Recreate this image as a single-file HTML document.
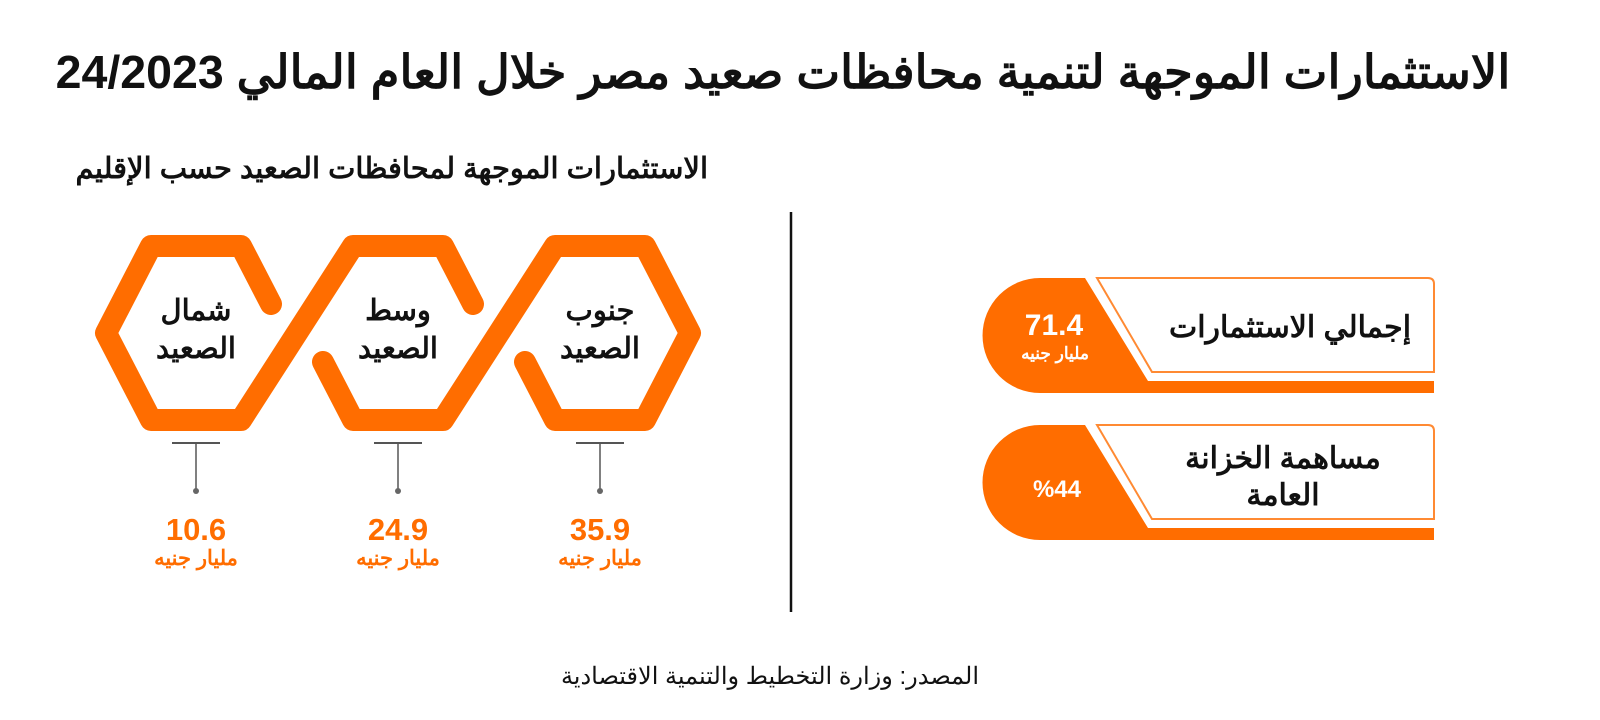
<!DOCTYPE html>
<html lang="ar"><head><meta charset="utf-8">
<style>
body{margin:0;background:#fff;width:1600px;height:720px;overflow:hidden;font-family:"Liberation Sans","Noto Sans CJK SC",sans-serif}
svg{display:block}
</style></head><body>
<svg id="s" width="1600" height="720" viewBox="0 0 1600 720">
<text x="783" y="88" text-anchor="middle" font-size="46.5" font-weight="bold" fill="#111" direction="rtl">الاستثمارات الموجهة لتنمية محافظات صعيد مصر خلال العام المالي 24/2023</text>
<text x="708" y="178" text-anchor="start" font-size="29" font-weight="bold" fill="#111" direction="rtl">الاستثمارات الموجهة لمحافظات الصعيد حسب الإقليم</text>
<line x1="791" y1="212" x2="791" y2="612" stroke="#111" stroke-width="2.5"/>
<g id="hex" fill="none" stroke="#ff6d00" stroke-width="22" stroke-linejoin="round" stroke-linecap="round"></g>
<g id="pins"></g>
<g id="cards"></g>
<text x="770" y="684" text-anchor="middle" font-size="24" fill="#111" direction="rtl">المصدر: وزارة التخطيط والتنمية الاقتصادية</text>
</svg>
<script>
const regions=["جنوب|الصعيد","وسط|الصعيد","شمال|الصعيد"];
const values=[35.9,24.9,10.6];
const unitLabel="مليار جنيه";
const cardTitles=["إجمالي الاستثمارات","مساهمة الخزانة|العامة"];
const cardValues=["71.4","%44"];
const cardUnits=["مليار جنيه",""];

const NS="http://www.w3.org/2000/svg";
function el(t,a,p){const e=document.createElementNS(NS,t);for(const k in a)e.setAttribute(k,a[k]);p.appendChild(e);return e;}
const cx=[600,398,196], T=246,B=420,M=333;
const hex=document.getElementById('hex');
const p=(a)=>a.map((q,i)=>(i?'L':'M')+q[0]+','+q[1]).join(' ');
let pa=el('path',{d:p([[cx[0]-75,362],[cx[0]-45,B],[cx[0]+45,B],[cx[0]+90,M],[cx[0]+45,T],[cx[0]-45,T],[cx[1]+45,B],[cx[1]-45,B],[cx[1]-75,362]])},hex);


let pb=el('path',{d:p([[cx[1]+75,304],[cx[1]+45,T],[cx[1]-45,T],[cx[2]+45,B],[cx[2]-45,B],[cx[2]-90,M],[cx[2]-45,T],[cx[2]+45,T],[cx[2]+75,304]])},hex);


const pins=document.getElementById('pins');
regions.forEach((r,i)=>{
  const [a,b]=r.split('|');
  const g=el('g',{},pins);
  
  
  el('text',{x:cx[i],y:320,'text-anchor':'middle','font-size':29,'font-weight':'bold',fill:'#111'},g).textContent=a;
  el('text',{x:cx[i],y:358,'text-anchor':'middle','font-size':29,'font-weight':'bold',fill:'#111'},g).textContent=b;
  el('line',{x1:cx[i]-24,y1:443,x2:cx[i]+24,y2:443,stroke:'#555','stroke-width':2},g);
  el('line',{x1:cx[i],y1:443,x2:cx[i],y2:490,stroke:'#555','stroke-width':1.5},g);
  el('circle',{cx:cx[i],cy:491,r:3,fill:'#666'},g);
  const v=el('text',{x:cx[i],y:540,'text-anchor':'middle','font-size':31,'font-weight':'bold',fill:'#ff6d00'},g);
  v.textContent=values[i].toFixed(1);
  
  
  el('text',{x:cx[i],y:565,'text-anchor':'middle','font-size':21,'font-weight':'bold',fill:'#ff6d00'},g).textContent=unitLabel;
});
const cards=document.getElementById('cards');
[278,425].forEach((y,i)=>{
  const g=el('g',{},cards);
  
  
  el('path',{d:`M1040,${y} L1085,${y} L1148,${y+103} L1434,${y+103} L1434,${y+115} L1040,${y+115} A57.5,57.5 0 0 1 1040,${y} Z`,fill:'#ff6d00'},g);
  el('path',{d:`M1097,${y} L1428,${y} Q1434,${y} 1434,${y+6} L1434,${y+94} L1152,${y+94} Z`,fill:'#fff',stroke:'#ff8a33','stroke-width':2},g);
  const t=cardTitles[i].split('|');
  if(t.length===1){el('text',{x:1290,y:y+59,'text-anchor':'middle','font-size':30,'font-weight':'bold',fill:'#111'},g).textContent=t[0];}
  else{el('text',{x:1283,y:y+43,'text-anchor':'middle','font-size':30,'font-weight':'bold',fill:'#111'},g).textContent=t[0];
       el('text',{x:1283,y:y+80,'text-anchor':'middle','font-size':30,'font-weight':'bold',fill:'#111'},g).textContent=t[1];}
  if(cardUnits[i]){
    el('text',{x:1054,y:y+57,'text-anchor':'middle','font-size':30,'font-weight':'bold',fill:'#fff'},g).textContent=cardValues[i];
    el('text',{x:1055,y:y+81,'text-anchor':'middle','font-size':17,'font-weight':'bold',fill:'#fff'},g).textContent=cardUnits[i];
  } else {
    el('text',{x:1057,y:y+72,'text-anchor':'middle','font-size':24,'font-weight':'bold',fill:'#fff'},g).textContent=cardValues[i];
  }
});
</script>
</body></html>
